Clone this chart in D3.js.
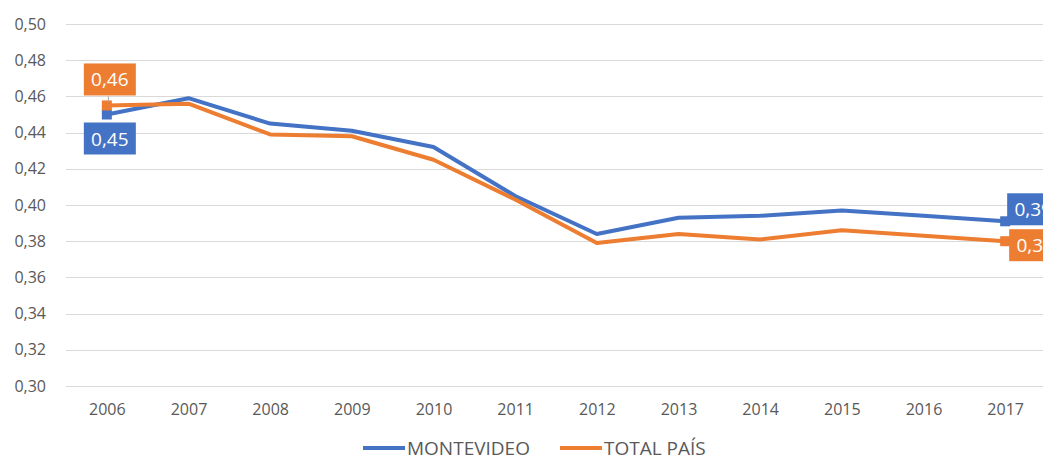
<!DOCTYPE html>
<html>
<head>
<meta charset="utf-8">
<script src="https://cdn.jsdelivr.net/npm/d3@7"></script>
<style>
  html, body { margin: 0; padding: 0; background: #fff; }
  svg { display: block; font-family: "Open Sans", "Liberation Sans", sans-serif; }
</style>
</head>
<body>
<div id="chart"></div>
<script>
// data
const years = ["2006", "2007", "2008", "2009", "2010", "2011", "2012", "2013", "2014", "2015", "2016", "2017"];
const montevideo = [0.450, 0.459, 0.445, 0.441, 0.432, 0.405, 0.384, 0.393, 0.394, 0.397, 0.394, 0.391];
const totalPais = [0.455, 0.456, 0.439, 0.438, 0.425, 0.403, 0.379, 0.384, 0.381, 0.386, 0.383, 0.380];
const yTicks = [0.30, 0.32, 0.34, 0.36, 0.38, 0.40, 0.42, 0.44, 0.46, 0.48, 0.50];
const seriesNames = ["MONTEVIDEO", "TOTAL PAÍS"];

const W = 1043, H = 457;
const colors = ["#4472C4", "#ED7D31"];

const locale = d3.formatLocale({ decimal: ",", thousands: ".", grouping: [3], currency: ["$", ""] });
const fmt = locale.format(".2f");

const svg = d3.select("#chart").append("svg")
    .attr("width", W)
    .attr("height", H);

const x = d3.scalePoint().domain(years).range([66, 1046]).padding(0.5);
const y = d3.scaleLinear().domain([0.30, 0.50]).range([386, 24]);

// gridlines
svg.append("g")
    .selectAll("line")
    .data(yTicks)
    .join("line")
    .attr("x1", 66)
    .attr("x2", W)
    .attr("y1", d => Math.round(y(d)) + 0.5)
    .attr("y2", d => Math.round(y(d)) + 0.5)
    .attr("stroke", "#d9d9d9")
    .attr("stroke-width", 1);

// y axis labels
const yAxisG = svg.append("g")
    .attr("transform", "translate(46,0)")
    .call(d3.axisLeft(y).tickValues(yTicks).tickFormat(fmt).tickSize(0).tickPadding(0));
yAxisG.select(".domain").remove();
yAxisG.selectAll("text")
    .attr("fill", "#595959")
    .style("font-size", "16px")
    .style("font-family", "\"Open Sans\", sans-serif");

// x axis labels
const xAxisG = svg.append("g")
    .attr("transform", "translate(0,404)")
    .call(d3.axisBottom(x).tickSize(0).tickPadding(0));
xAxisG.select(".domain").remove();
xAxisG.selectAll("text")
    .attr("fill", "#595959")
    .attr("dy", "0.71em")
    .style("font-size", "16px")
    .style("font-family", "\"Open Sans\", sans-serif");

const series = [montevideo, totalPais];

const line = d3.line()
    .x((d, i) => x(years[i]))
    .y(d => y(d));

// lines
svg.append("g")
    .selectAll("path")
    .data(series)
    .join("path")
    .attr("fill", "none")
    .attr("stroke", (d, i) => colors[i])
    .attr("stroke-width", 4)
    .attr("stroke-linejoin", "round")
    .attr("d", line);

// end markers
const ends = [];
series.forEach((s, si) => {
    [0, s.length - 1].forEach(i => ends.push({ si, i, v: s[i] }));
});

svg.append("g")
    .selectAll("rect")
    .data(ends)
    .join("rect")
    .attr("x", d => x(years[d.i]) - 5)
    .attr("y", d => y(d.v) - 5)
    .attr("width", 10)
    .attr("height", 10)
    .attr("fill", d => colors[d.si]);

// data label boxes (offsets relative to the point)
const labelOffsets = {
    "0-0": { dx: -23, dy: 8 },    // montevideo 2006, below
    "1-0": { dx: -23, dy: -42 },  // total 2006, above
    "0-11": { dx: 2, dy: -28 },   // montevideo 2017
    "1-11": { dx: 4, dy: -12 }    // total 2017
};

// leader line for the 2006 total label
svg.append("line")
    .attr("x1", x(years[0]) + 1.5)
    .attr("x2", x(years[0]) + 1.5)
    .attr("y1", y(totalPais[0]) - 9)
    .attr("y2", y(totalPais[0]) - 4)
    .attr("stroke", "#a6a6a6")
    .attr("stroke-width", 1);

const labels = svg.append("g")
    .selectAll("g")
    .data(ends)
    .join("g")
    .attr("transform", d => {
        const o = labelOffsets[d.si + "-" + d.i];
        return `translate(${x(years[d.i]) + o.dx},${y(d.v) + o.dy})`;
    });

labels.append("rect")
    .attr("width", 52)
    .attr("height", 32)
    .attr("fill", d => colors[d.si]);

labels.append("text")
    .attr("x", 26)
    .attr("y", 23)
    .attr("text-anchor", "middle")
    .attr("fill", "#fff")
    .style("font-size", "19px")
    .text(d => fmt(d.v));

// legend
const legendX = [363, 560];
const legend = svg.append("g")
    .selectAll("g")
    .data(seriesNames)
    .join("g")
    .attr("transform", (d, i) => `translate(${legendX[i]},448)`);

legend.append("line")
    .attr("x1", 0)
    .attr("x2", 42)
    .attr("stroke", (d, i) => colors[i])
    .attr("stroke-width", 4);

legend.append("text")
    .attr("x", 44)
    .attr("y", 6.5)
    .attr("fill", "#595959")
    .style("font-size", "19px")
    .text(d => d);
</script>
</body>
</html>
